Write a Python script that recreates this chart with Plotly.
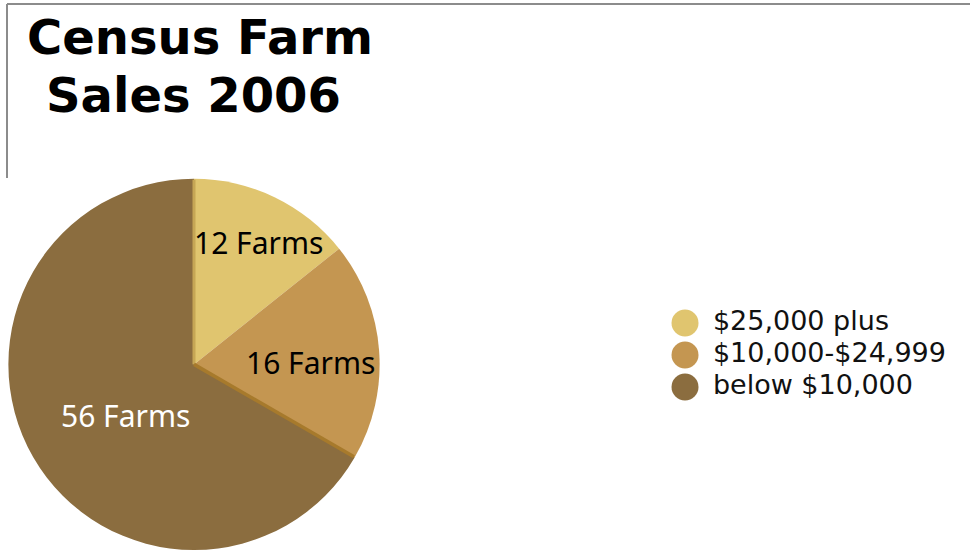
import math
import plotly.graph_objects as go

# Farm sales classes and number of farms in each
categories = ["$25,000 plus", "$10,000-$24,999", "below $10,000"]
farms = [12, 16, 56]
slice_labels = [f"{n} Farms" for n in farms]
colors = ["#E0C56F", "#C49651", "#8B6D3F"]
label_colors = ["#000000", "#000000", "#FFFFFF"]
title_lines = ["Census Farm", "Sales 2006"]

H = 550
W = 970
pie_x = [0.008, 0.392]
pie_y = [0.0, 0.675]
# label placement: fraction of the radius and angular nudge (degrees)
label_radius = [0.743, 0.625, 0.461]
label_angle_shift = [2.2, 3.4, -6.3]
# shaded rim along the 12 o'clock edge and along the edge closing the middle slice
edge_colors = ["#C6A655", "#A77A2C"]
edge_widths = [3, 3.5]

fig = go.Figure()

fig.add_trace(go.Pie(
    labels=categories,
    values=farms,
    textinfo="none",
    marker=dict(colors=colors, line=dict(width=0)),
    sort=False,
    direction="clockwise",
    rotation=0,
    showlegend=False,
    hoverinfo="label+value",
    domain=dict(x=pie_x, y=pie_y),
))

# Pie geometry in pixels (clockwise from 12 o'clock)
cx_px = (pie_x[0] + pie_x[1]) / 2 * W
cy_px = (1 - (pie_y[0] + pie_y[1]) / 2) * H
r_px = min((pie_x[1] - pie_x[0]) * W, (pie_y[1] - pie_y[0]) * H) / 2
total = sum(farms)


def polar(frac_r, ang):
    return (cx_px + frac_r * r_px * math.sin(ang), cy_px - frac_r * r_px * math.cos(ang))


label_ann = []
start = 0.0
for n, txt, col, f, da in zip(farms, slice_labels, label_colors, label_radius, label_angle_shift):
    mid = 2 * math.pi * (start + n / 2) / total + math.radians(da)
    start += n
    px, py = polar(f, mid)
    label_ann.append(dict(
        text=txt, x=px / W, y=1 - py / H, xref="paper", yref="paper",
        xanchor="center", yanchor="middle", showarrow=False,
        font=dict(family="Noto Sans", size=30, color=col),
    ))

edge_shapes = []
for cum, ecol, ew in zip([0, farms[0] + farms[1]], edge_colors, edge_widths):
    ang = 2 * math.pi * cum / total
    ex, ey = polar(0.995, ang)
    edge_shapes.append(dict(
        type="line", xref="paper", yref="paper",
        x0=cx_px / W, y0=1 - cy_px / H, x1=ex / W, y1=1 - ey / H,
        line=dict(color=ecol, width=ew), layer="above",
    ))

# Circle-marker key, one row per sales class
fig.add_trace(go.Scatter(
    x=[0] * len(categories),
    y=categories,
    mode="markers",
    marker=dict(size=27, color=colors, symbol="circle"),
    cliponaxis=False,
    showlegend=False,
    hoverinfo="skip",
))
fig.add_trace(go.Scatter(
    x=[0] * len(categories),
    y=categories,
    mode="markers+text",
    marker=dict(size=43, color="rgba(0,0,0,0)"),
    text=categories,
    textposition="middle right",
    textfont=dict(family="DejaVu Sans", size=27, color="#111111"),
    cliponaxis=False,
    showlegend=False,
    hoverinfo="skip",
))

title_ann = [
    dict(text=f"<b>{line}</b>", x=cx / W, y=1 - cy / H,
         xref="paper", yref="paper", xanchor="center", yanchor="middle",
         showarrow=False, font=dict(family="DejaVu Sans", size=48, color="#000000"))
    for line, cx, cy in zip(title_lines, [199.5, 193.5], [36.5, 94.5])
]

fig.update_layout(
    width=W, height=H,
    margin=dict(l=0, r=0, t=0, b=0),
    paper_bgcolor="white",
    plot_bgcolor="rgba(0,0,0,0)",
    xaxis=dict(domain=[0.6062, 0.8062], range=[-1, 1], visible=False, fixedrange=True),
    yaxis=dict(domain=[1 - 403 / H, 1 - 307 / H], type="category", range=[2.5, -0.5],
               visible=False, fixedrange=True),
    annotations=title_ann + label_ann,
    shapes=edge_shapes + [
        dict(type="line", xref="paper", yref="paper",
             x0=7 / W, x1=1, y0=1 - 4 / H, y1=1 - 4 / H,
             line=dict(color="#8C8C8C", width=2)),
        dict(type="line", xref="paper", yref="paper",
             x0=7 / W, x1=7 / W, y0=1 - 4 / H, y1=1 - 178 / H,
             line=dict(color="#8C8C8C", width=2)),
    ],
)

fig.write_html("out.html")
